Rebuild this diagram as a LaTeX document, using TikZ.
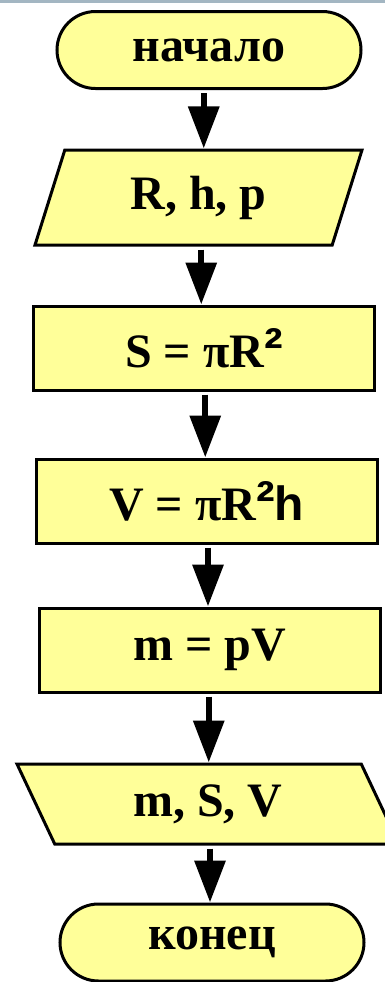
\documentclass[tikz,border=0pt]{standalone}
\usepackage{fontspec}
\setmainfont{Liberation Serif}
\newfontfamily\sansbold{Liberation Sans}
\usetikzlibrary{shapes.misc,shapes.geometric,arrows.meta,calc}
\definecolor{boxfill}{HTML}{FFFF99}
\definecolor{topband}{HTML}{A3B6C2}
\newcommand{\sqsup}{{\sansbold\fontsize{28}{28}\selectfont ²}}
\tikzset{
  base/.style={draw=black, line width=1.5pt, fill=boxfill,
    font=\fontsize{24}{28}\selectfont\bfseries, inner sep=0pt, text=black},
  term/.style={base, rounded rectangle, minimum width=152pt, minimum height=38.5pt},
  proc/.style={base, rectangle, minimum width=170.5pt, minimum height=42pt},
  ioright/.style={base, trapezium, trapezium stretches body,
    trapezium left angle=55.6, trapezium right angle=124.4,
    minimum width=163.5pt, minimum height=47.5pt},
  ioleft/.style={base, trapezium, trapezium stretches body,
    trapezium left angle=133.9, trapezium right angle=46.1,
    minimum width=191pt, minimum height=40pt},
  arr/.style={line width=3.2pt, -{Triangle[width=15pt,length=21pt]}, shorten <=1.5pt}
}
\newcommand{\flowarrow}[2]{%
  \path ($(#1.south)!0.5!(#2.north)$) coordinate (mid-#1);
  \draw[arr] (mid-#1 |- #1.south) -- (mid-#1 |- #2.north);}
\begin{document}
\begin{tikzpicture}[x=0.5pt,y=0.5pt]
  \useasboundingbox (0,0) rectangle (385,-982);
  \fill[white] (0,0) rectangle (385,-982);
  \fill[topband] (0,0) rectangle (385,-3);
  \node[term] (start) at (209,-50) {начало};
  \node[ioright] (input) at (198.5,-197.5) {R, h, p};
  \node[proc] (area) at (204,-348) {S = πR\sqsup};
  \node[proc] (volume) at (206.5,-501) {V = πR\sqsup{\sansbold h}};
  \node[proc] (mass) at (209.5,-650) {m = pV};
  \node[ioleft] (output) at (208,-804) {m, S, V};
  \node[term] (stop) at (212,-942.5) {конец};
  \flowarrow{start}{input}
  \flowarrow{input}{area}
  \flowarrow{area}{volume}
  \flowarrow{volume}{mass}
  \flowarrow{mass}{output}
  \flowarrow{output}{stop}
\end{tikzpicture}
\end{document}
